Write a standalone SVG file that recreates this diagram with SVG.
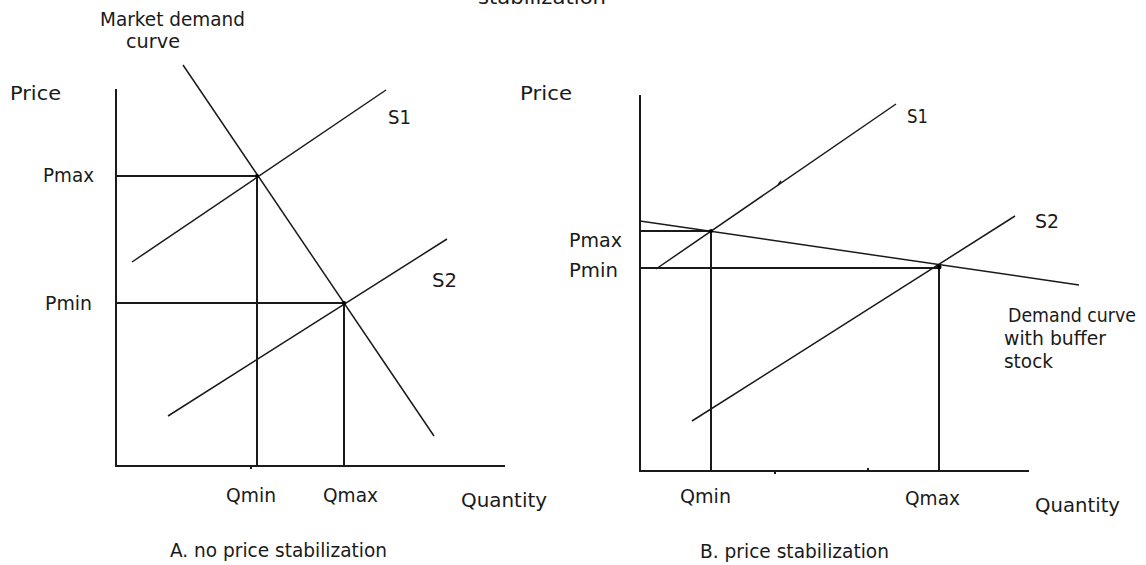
<svg xmlns="http://www.w3.org/2000/svg" width="1146" height="565" viewBox="0 0 1146 565">
<style>
text{font-family:"DejaVu Sans","Liberation Sans",sans-serif;font-size:19px;fill:#1a1a1a}
.ax{stroke:#1a1a1a;stroke-width:2;fill:none}
.cv{stroke:#1a1a1a;stroke-width:1.5;fill:none}
.dot{fill:#000}
</style>
<rect width="1146" height="565" fill="#fff"/>
<text x="478" y="4" textLength="128" lengthAdjust="spacingAndGlyphs">stabilization</text>
<g id="chartA">
  <g id="axesA">
    <path class="ax" d="M116 89 V466 H505"/>
    <path class="ax" d="M251 466 V469" stroke-width="1.5"/>
  </g>
  <g id="connectorsA">
    <path class="ax" d="M116 176 H257 V466"/>
    <path class="ax" d="M116 303 H344 V466"/>
    <path class="cv" d="M183 65 L434 436"/>
    <path class="cv" d="M132 262 L386 90"/>
    <path class="cv" d="M168 416 L447 239"/>
    <circle class="dot" cx="257" cy="176" r="2"/>
    <circle class="dot" cx="344" cy="303" r="2"/>
  </g>
  <g id="labelsA">
    <text x="10" y="100" textLength="51" lengthAdjust="spacingAndGlyphs">Price</text>
    <text x="100" y="26" textLength="145" lengthAdjust="spacingAndGlyphs">Market demand</text>
    <text x="126" y="48" textLength="54" lengthAdjust="spacingAndGlyphs">curve</text>
    <text x="43" y="182" textLength="51" lengthAdjust="spacingAndGlyphs">Pmax</text>
    <text x="45" y="310" textLength="47" lengthAdjust="spacingAndGlyphs">Pmin</text>
    <text x="388" y="124" textLength="23" lengthAdjust="spacingAndGlyphs">S1</text>
    <text x="432" y="287" textLength="25" lengthAdjust="spacingAndGlyphs">S2</text>
    <text x="226" y="502" textLength="50" lengthAdjust="spacingAndGlyphs">Qmin</text>
    <text x="323" y="502" textLength="55" lengthAdjust="spacingAndGlyphs">Qmax</text>
    <text x="461" y="507" textLength="86" lengthAdjust="spacingAndGlyphs">Quantity</text>
    <text x="170" y="557" textLength="217" lengthAdjust="spacingAndGlyphs">A. no price stabilization</text>
  </g>
</g>
<g id="chartB">
  <g id="axesB">
    <path class="ax" d="M640 95 V471 H1029"/>
    <path class="ax" d="M775 471 V474 M868 468 V471" stroke-width="1.5"/>
  </g>
  <g id="connectorsB">
    <path class="ax" d="M640 231 H711 V471"/>
    <path class="ax" d="M640 268 H939 V471"/>
    <path class="cv" d="M640 221 L1079 285"/>
    <path class="cv" d="M656 269 L896 104"/>
    <path class="cv" d="M692 421 L1015 216"/>
    <path class="cv" d="M778 185 L781 181"/>
    <circle class="dot" cx="711" cy="231" r="2"/>
    <circle class="dot" cx="939" cy="267" r="2.5"/>
  </g>
  <g id="labelsB">
    <text x="520" y="100" textLength="52" lengthAdjust="spacingAndGlyphs">Price</text>
    <text x="907" y="123" textLength="21" lengthAdjust="spacingAndGlyphs">S1</text>
    <text x="569" y="247" textLength="53" lengthAdjust="spacingAndGlyphs">Pmax</text>
    <text x="569" y="277" textLength="49" lengthAdjust="spacingAndGlyphs">Pmin</text>
    <text x="1035" y="228" textLength="24" lengthAdjust="spacingAndGlyphs">S2</text>
    <text x="1008" y="322" textLength="128" lengthAdjust="spacingAndGlyphs">Demand curve</text>
    <text x="1004" y="345" textLength="102" lengthAdjust="spacingAndGlyphs">with buffer</text>
    <text x="1004" y="368" textLength="49" lengthAdjust="spacingAndGlyphs">stock</text>
    <text x="680" y="503" textLength="51" lengthAdjust="spacingAndGlyphs">Qmin</text>
    <text x="905" y="505" textLength="55" lengthAdjust="spacingAndGlyphs">Qmax</text>
    <text x="1035" y="512" textLength="85" lengthAdjust="spacingAndGlyphs">Quantity</text>
    <text x="700" y="558" textLength="189" lengthAdjust="spacingAndGlyphs">B. price stabilization</text>
  </g>
</g>
</svg>
